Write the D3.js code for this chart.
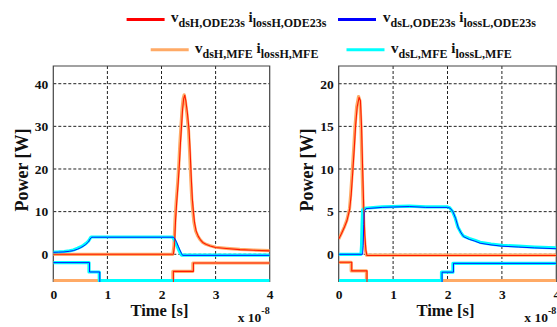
<!DOCTYPE html>
<html><head><meta charset="utf-8">
<script src="https://cdn.jsdelivr.net/npm/d3@7"></script>
<style>
body{margin:0;background:#fff;}
</style></head>
<body><svg id="c" width="557" height="327"></svg>
<script>
// ---------- data (time in units of 1e-8 s, power in W) ----------
const xTicks = [0, 1, 2, 3, 4];
const leftYTicks = [0, 10, 20, 30, 40];
const rightYTicks = [0, 5, 10, 15, 20];
const leftYDomain = [-6.5, 44.15];
const rightYDomain = [-3.25, 22.08];

// High-side switch (left panel)
const highODE = [[0,0],[2.22,0],[2.24,2],[2.26,8],[2.28,12],[2.31,17],[2.33,21],[2.35,26],[2.37,30],[2.39,34],[2.41,36.5],[2.43,37.3],[2.45,36],[2.48,33],[2.51,29],[2.53,24],[2.55,18],[2.57,13],[2.59,10],[2.61,7.5],[2.64,5.5],[2.68,4.2],[2.72,3.4],[2.77,2.7],[2.83,2.3],[2.9,1.95],[3.0,1.6],[3.2,1.35],[3.45,1.1],[3.7,0.95],[4,0.8]];
const highMFE = [[0,0],[2.21,0],[2.23,2],[2.25,8],[2.27,12],[2.3,17],[2.32,21],[2.34,26],[2.36,30],[2.38,34],[2.4,36.5],[2.42,37.4],[2.44,36],[2.47,33],[2.5,29],[2.52,24],[2.54,18],[2.56,13],[2.58,10],[2.6,7.5],[2.63,5.5],[2.67,4.3],[2.71,3.5],[2.76,2.8],[2.82,2.35],[2.9,2.0],[3.0,1.65],[3.2,1.4],[3.45,1.15],[3.7,1.0],[4,0.85]];
const lowInHighODE = [[0,0.45],[0.1,0.5],[0.2,0.55],[0.3,0.7],[0.37,0.85],[0.45,1.2],[0.5,1.5],[0.55,1.85],[0.6,2.3],[0.65,2.9],[0.68,3.6],[0.71,4.0],[0.75,4.0],[2.22,4.0],[2.25,3.6],[2.28,2.8],[2.31,1.9],[2.34,1.0],[2.37,0.2],[2.39,-0.25],[4,-0.25]];
const lowInHighMFE = [[0,0.5],[0.1,0.55],[0.2,0.65],[0.3,0.8],[0.37,1.0],[0.45,1.4],[0.5,1.7],[0.55,2.05],[0.6,2.5],[0.65,3.1],[0.68,3.7],[0.7,4.05],[0.75,4.05],[2.2,4.05],[2.23,3.6],[2.26,2.8],[2.29,1.9],[2.32,1.0],[2.35,0.2],[2.37,-0.2],[4,-0.2]];
const highStepODE = [[0,-8],[2.22,-8],[2.22,-4],[2.59,-4],[2.59,-2.05],[4,-2.05]];
const highStepMFE = [[0,-6.2],[2.21,-6.2],[2.21,-4],[2.58,-4],[2.58,-2.05],[4,-2.05]];
const lowStepInHighODE = [[0,-1.95],[0.67,-1.95],[0.67,-4.15],[0.86,-4.15],[0.86,-8],[4,-8]];
const lowStepInHighMFE = [[0,-1.95],[0.66,-1.95],[0.66,-4.15],[0.85,-4.15],[0.85,-6.2],[4,-6.2]];

// Low-side switch (right panel)
const highInLowODE = [[0,1.8],[0.05,2.4],[0.1,3.1],[0.15,3.9],[0.2,5.2],[0.23,7.0],[0.26,9.8],[0.29,12.8],[0.31,15],[0.34,17.3],[0.375,18.4],[0.4,18.0],[0.42,15],[0.44,10],[0.46,5.5],[0.48,2.2],[0.5,0.5],[0.52,-0.15],[4,-0.15]];
const highInLowMFE = [[0,1.8],[0.05,2.45],[0.1,3.15],[0.15,4.0],[0.2,5.4],[0.22,7.0],[0.25,9.8],[0.28,12.8],[0.3,15],[0.33,17.3],[0.365,18.5],[0.39,18.0],[0.41,15],[0.43,10],[0.45,5.5],[0.47,2.2],[0.49,0.5],[0.51,-0.1],[4,-0.1]];
const lowODE = [[0,0],[0.44,0],[0.45,1],[0.46,3.5],[0.47,5.0],[0.5,5.35],[0.8,5.5],[1.3,5.6],[1.6,5.5],[2.0,5.5],[2.05,5.4],[2.1,5.0],[2.15,4.2],[2.2,3.1],[2.25,2.5],[2.3,2.05],[2.4,1.75],[2.5,1.55],[2.6,1.3],[2.8,1.1],[3.0,0.95],[3.3,0.85],[3.6,0.75],[4,0.65]];
const lowMFE = [[0,0],[0.41,0],[0.42,1],[0.43,3.5],[0.44,5.2],[0.47,5.4],[0.8,5.55],[1.3,5.65],[1.6,5.55],[2.0,5.55],[2.04,5.45],[2.09,5.05],[2.14,4.3],[2.19,3.2],[2.24,2.6],[2.29,2.15],[2.4,1.85],[2.5,1.65],[2.6,1.4],[2.8,1.2],[3.0,1.05],[3.3,0.95],[3.6,0.85],[4,0.75]];
const highStepInLowODE = [[0,-0.94],[0.24,-0.94],[0.24,-1.95],[0.52,-1.95],[0.52,-4],[4,-4]];
const highStepInLowMFE = [[0,-0.94],[0.23,-0.94],[0.23,-1.95],[0.51,-1.95],[0.51,-3.1],[4,-3.1]];
const lowStepODE = [[0,-4],[1.9,-4],[1.9,-2.1],[2.11,-2.1],[2.11,-1.06],[4,-1.06]];
const lowStepMFE = [[0,-3.1],[1.89,-3.1],[1.89,-2.1],[2.1,-2.1],[2.1,-1.06],[4,-1.06]];

const legendItems = [
  {color:"#ff0000", v:"dsH,ODE23s", i:"lossH,ODE23s"},
  {color:"#0000ff", v:"dsL,ODE23s", i:"lossL,ODE23s"},
  {color:"#ffaa66", v:"dsH,MFE", i:"lossH,MFE"},
  {color:"#00ffff", v:"dsL,MFE", i:"lossL,MFE"}
];

const COLORS = {red:"#ff1a00", blue:"#0000ff", orange:"#ffaa66", cyan:"#00ffff"};

// pick an installed serif face (Times-like)
function pickSerif(){
  const c = document.createElement("canvas").getContext("2d");
  const probe = "Time [s] Power [W] 0123456789 vdsH,ODE23s";
  function w(f){ c.font = "bold 40px " + f; return c.measureText(probe).width; }
  const baseM = w("monospace"), baseS = w("sans-serif");
  const cands = ["Liberation Serif","Tinos","Times New Roman","Nimbus Roman","Noto Serif","DejaVu Serif"];
  for (const f of cands){
    const a = w(`'${f}',monospace`), b = w(`'${f}',sans-serif`);
    if (a !== baseM || b !== baseS) return `'${f}', serif`;
  }
  return "serif";
}
const SERIF = pickSerif();

// ---------- drawing ----------
const svg = d3.select("#c").attr("font-family", SERIF).attr("font-weight","bold");

function panel(opts){
  const {x0,x1,y0,y1,yDomain,yTicks,id,ylabX,series} = opts;
  const x = d3.scaleLinear().domain([0,4]).range([x0,x1]);
  const y = d3.scaleLinear().domain(yDomain).range([y1,y0]);
  const g = svg.append("g");
  svg.append("clipPath").attr("id",id).append("rect")
    .attr("x",x0).attr("y",y0).attr("width",x1-x0).attr("height",y1-y0);
  // grid
  g.append("g").selectAll("line").data(xTicks.slice(1,-1)).join("line")
    .attr("x1",d=>x(d)).attr("x2",d=>x(d)).attr("y1",y0).attr("y2",y1)
    .attr("stroke","#222").attr("stroke-width",1).attr("stroke-dasharray","3,2");
  g.append("g").selectAll("line").data(yTicks).join("line")
    .attr("x1",x0).attr("x2",x1).attr("y1",d=>y(d)).attr("y2",d=>y(d))
    .attr("stroke","#222").attr("stroke-width",1).attr("stroke-dasharray","3,2");
  // frame
  g.append("path").attr("d",`M${x0},${y1}V${y0}H${x1}V${y1}`)
    .attr("fill","none").attr("stroke","#444").attr("stroke-width",1.2);
  // lines
  const line = d3.line().x(d=>x(d[0])).y(d=>y(d[1]));
  const lg = g.append("g").attr("clip-path",`url(#${id})`);
  series.forEach(s=>{
    lg.append("path").datum(s.data).attr("d",line).attr("fill","none")
      .attr("stroke",s.color).attr("stroke-width",s.w).attr("stroke-linejoin","round");
  });
  // axes (MATLAB style labels)
  const xa = d3.axisBottom(x).tickValues(xTicks).tickSize(0).tickPadding(7).tickFormat(d3.format("d"));
  const xg = g.append("g").attr("transform",`translate(0,${y1})`).call(xa);
  xg.attr("font-family",SERIF).attr("font-size",13.5).attr("font-weight","bold");
  xg.select(".domain").remove();
  xg.selectAll("text").attr("fill","#111");
  const ya = d3.axisLeft(y).tickValues(yTicks).tickSize(0).tickPadding(5).tickFormat(d3.format("d"));
  const yg = g.append("g").attr("transform",`translate(${x0},0)`).call(ya);
  yg.attr("font-family",SERIF).attr("font-size",13.5).attr("font-weight","bold");
  yg.select(".domain").remove();
  yg.selectAll("text").attr("fill","#111");
  // titles
  g.append("text").attr("x",(x0+x1)/2-2).attr("y",316).attr("text-anchor","middle")
    .attr("fill","#111").attr("font-size",16.5).text("Time [s]");
  g.append("text").attr("transform",`translate(${ylabX},${(y0+y1)/2-4}) rotate(-90)`)
    .attr("text-anchor","middle").attr("fill","#111").attr("font-size",18).text("Power [W]");
  const e = g.append("text").attr("x",x1-32).attr("y",322).attr("fill","#111").attr("font-size",13.5);
  e.append("tspan").text("x 10");
  e.append("tspan").attr("dy",-8).attr("font-size",10).text("-8");
}

panel({x0:53.3,x1:269.7,y0:66,y1:282,yDomain:leftYDomain,yTicks:leftYTicks,id:"clipL",ylabX:28,
  series:[
    {data:highMFE,color:COLORS.orange,w:3.2},
    {data:highStepMFE,color:COLORS.orange,w:3.2},
    {data:lowInHighMFE,color:COLORS.cyan,w:3.2},
    {data:lowStepInHighMFE,color:COLORS.cyan,w:3.2},
    {data:highODE,color:COLORS.red,w:1.1},
    {data:highStepODE,color:COLORS.red,w:1.1},
    {data:lowInHighODE,color:COLORS.blue,w:0.9},
    {data:lowStepInHighODE,color:COLORS.blue,w:0.9}
  ]});
panel({x0:338.7,x1:556.3,y0:66,y1:282,yDomain:rightYDomain,yTicks:rightYTicks,id:"clipR",ylabX:313,
  series:[
    {data:highInLowMFE,color:COLORS.orange,w:3.2},
    {data:highStepInLowMFE,color:COLORS.orange,w:3.2},
    {data:lowMFE,color:COLORS.cyan,w:3.2},
    {data:lowStepMFE,color:COLORS.cyan,w:3.2},
    {data:highInLowODE,color:COLORS.red,w:1.1},
    {data:highStepInLowODE,color:COLORS.red,w:1.1},
    {data:lowODE,color:COLORS.blue,w:0.9},
    {data:lowStepODE,color:COLORS.blue,w:0.9}
  ]});

// legend
const legPos = [
  {lx:126.6, ly:19.5, tx:171, ty:22},
  {lx:338, ly:19.5, tx:383, ty:22},
  {lx:150.7, ly:49.7, tx:195, ty:53},
  {lx:346.5, ly:49.7, tx:391, ty:53}
];
legendItems.forEach((d,k)=>{
  const p = legPos[k];
  svg.append("line").attr("x1",p.lx).attr("x2",p.lx+38).attr("y1",p.ly).attr("y2",p.ly)
    .attr("stroke",d.color).attr("stroke-width",3);
  const t = svg.append("text").attr("x",p.tx).attr("y",p.ty).attr("fill","#111").attr("font-size",15);
  t.append("tspan").text("v");
  t.append("tspan").attr("dy",5).attr("font-size",12).text(d.v);
  t.append("tspan").attr("dy",-5).text("\u00a0i");
  t.append("tspan").attr("dy",5).attr("font-size",12).text(d.i);
});
</script></body></html>
